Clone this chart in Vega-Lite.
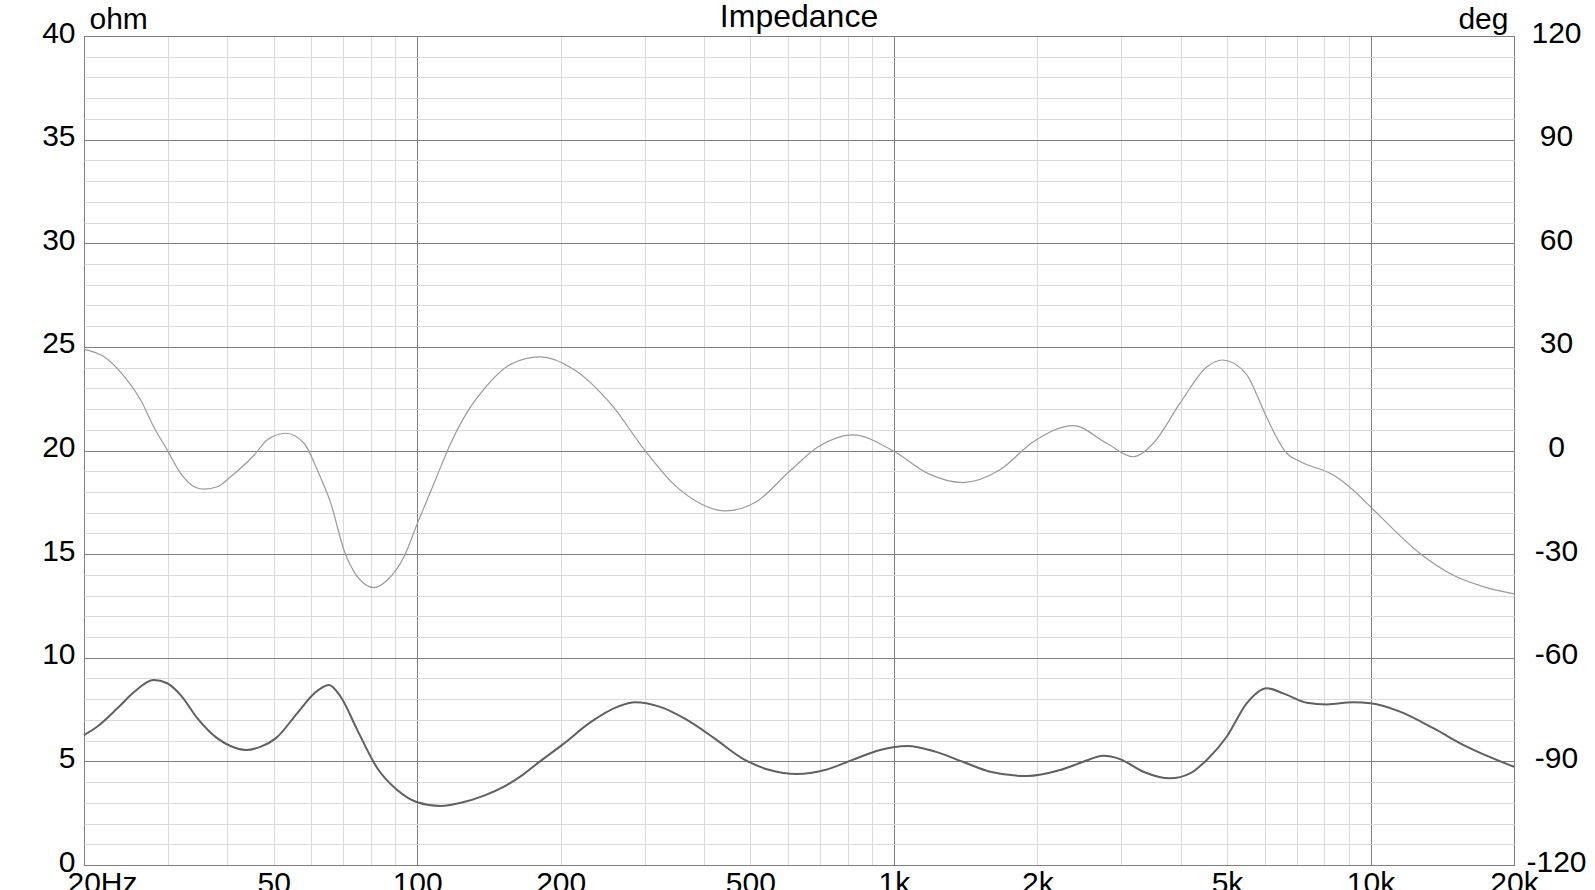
{
  "$schema": "https://vega.github.io/schema/vega-lite/v6.json",
  "width": 1430,
  "height": 829,
  "autosize": {"type": "none"},
  "padding": {"left": 84, "top": 36, "right": 81, "bottom": 25},
  "background": "white",
  "title": {"text": "Impedance", "anchor": "middle", "frame": "group", "fontSize": 32, "font": "Liberation Sans", "fontWeight": "normal", "color": "#000", "baseline": "alphabetic", "offset": -55},
  "datasets": {
    "impedance": [
      {"f": 20, "ohm": 6.27}, {"f": 21.3, "ohm": 6.67}, {"f": 23.5, "ohm": 7.56}, {"f": 25.5, "ohm": 8.36},
      {"f": 28.0, "ohm": 8.93}, {"f": 29.9, "ohm": 8.77}, {"f": 31.9, "ohm": 8.2}, {"f": 34.6, "ohm": 7.08},
      {"f": 38.1, "ohm": 6.11}, {"f": 40.6, "ohm": 5.74}, {"f": 43.7, "ohm": 5.55}, {"f": 47.0, "ohm": 5.71},
      {"f": 50.5, "ohm": 6.11}, {"f": 56.0, "ohm": 7.32}, {"f": 60.8, "ohm": 8.28}, {"f": 65.3, "ohm": 8.69},
      {"f": 69.1, "ohm": 8.12}, {"f": 74.9, "ohm": 6.51}, {"f": 82.5, "ohm": 4.67}, {"f": 90.8, "ohm": 3.62},
      {"f": 100, "ohm": 3.03}, {"f": 112, "ohm": 2.85}, {"f": 123.4, "ohm": 3.0}, {"f": 138.1, "ohm": 3.35},
      {"f": 154.8, "ohm": 3.88}, {"f": 166.5, "ohm": 4.35}, {"f": 179.8, "ohm": 4.95}, {"f": 202.1, "ohm": 5.82}, {"f": 230.8, "ohm": 6.88},
      {"f": 263.7, "ohm": 7.64}, {"f": 286.6, "ohm": 7.85}, {"f": 322.1, "ohm": 7.64}, {"f": 368.1, "ohm": 7.0},
      {"f": 420.5, "ohm": 6.11}, {"f": 480.6, "ohm": 5.15}, {"f": 549.1, "ohm": 4.58}, {"f": 627, "ohm": 4.39},
      {"f": 716.6, "ohm": 4.58}, {"f": 818.8, "ohm": 5.07}, {"f": 935.5, "ohm": 5.55}, {"f": 1069, "ohm": 5.74},
      {"f": 1221, "ohm": 5.47}, {"f": 1395, "ohm": 4.98}, {"f": 1593, "ohm": 4.5}, {"f": 1900, "ohm": 4.29},
      {"f": 2232, "ohm": 4.58}, {"f": 2497, "ohm": 4.98}, {"f": 2750, "ohm": 5.27}, {"f": 2982, "ohm": 5.11},
      {"f": 3337, "ohm": 4.5}, {"f": 3795, "ohm": 4.18}, {"f": 4183, "ohm": 4.42}, {"f": 4533, "ohm": 5.07},
      {"f": 4992, "ohm": 6.19}, {"f": 5498, "ohm": 7.8}, {"f": 6056, "ohm": 8.53}, {"f": 6562, "ohm": 8.28},
      {"f": 7348, "ohm": 7.83}, {"f": 8094, "ohm": 7.75}, {"f": 9205, "ohm": 7.85}, {"f": 10000, "ohm": 7.8},
      {"f": 11531, "ohm": 7.4}, {"f": 13542, "ohm": 6.6}, {"f": 15914, "ohm": 5.71}, {"f": 20000, "ohm": 4.74}
    ],
    "phase": [
      {"f": 20, "deg": 29.3}, {"f": 22.0, "deg": 27.2}, {"f": 24.3, "deg": 21.4}, {"f": 26.3, "deg": 14.6},
      {"f": 28.0, "deg": 6.9}, {"f": 29.9, "deg": 0.1}, {"f": 31.9, "deg": -6.6}, {"f": 34.3, "deg": -10.7},
      {"f": 35.7, "deg": -11.2}, {"f": 38.1, "deg": -10.5}, {"f": 40.6, "deg": -7.6}, {"f": 45.5, "deg": -1.3},
      {"f": 48.5, "deg": 3.1}, {"f": 53.0, "deg": 5.0}, {"f": 57.9, "deg": 2.1}, {"f": 61.7, "deg": -5.6},
      {"f": 65.9, "deg": -15.3}, {"f": 70.2, "deg": -28.8}, {"f": 74.9, "deg": -36.5}, {"f": 81.2, "deg": -39.7},
      {"f": 86.6, "deg": -37.5}, {"f": 93.9, "deg": -30.7}, {"f": 100.1, "deg": -21.1}, {"f": 108.5, "deg": -9.5},
      {"f": 117.6, "deg": 2.1}, {"f": 129.5, "deg": 12.7}, {"f": 138.1, "deg": 17.8}, {"f": 157.3, "deg": 25.0},
      {"f": 181, "deg": 27.1}, {"f": 212.4, "deg": 23.6}, {"f": 255.1, "deg": 13.4}, {"f": 301.3, "deg": -0.2},
      {"f": 344.3, "deg": -9.6}, {"f": 393.4, "deg": -15.4}, {"f": 442, "deg": -17.5}, {"f": 513.6, "deg": -14.9},
      {"f": 606.6, "deg": -5.8}, {"f": 692.9, "deg": 1.0}, {"f": 818.8, "deg": 4.5}, {"f": 1000, "deg": -0.2},
      {"f": 1181, "deg": -6.7}, {"f": 1395, "deg": -9.3}, {"f": 1670, "deg": -5.6}, {"f": 1961, "deg": 2.5},
      {"f": 2380, "deg": 7.2}, {"f": 2796, "deg": 2.1}, {"f": 3178, "deg": -1.8}, {"f": 3502, "deg": 2.1},
      {"f": 3985, "deg": 13.7}, {"f": 4533, "deg": 24.2}, {"f": 4897, "deg": 26.2}, {"f": 5498, "deg": 22.0},
      {"f": 5800, "deg": 15.5}, {"f": 6056, "deg": 9.6}, {"f": 6671, "deg": -0.8}, {"f": 7115, "deg": -3.2}, {"f": 8356, "deg": -7.1},
      {"f": 9205, "deg": -11.5}, {"f": 10000, "deg": -16.3}, {"f": 12700, "deg": -29.8}, {"f": 14918, "deg": -36.1},
      {"f": 17246, "deg": -39.4}, {"f": 20000, "deg": -41.5}
    ]
  },
  "layer": [
    {
      "data": {"name": "impedance"},
      "mark": {"type": "line", "color": "#606060", "strokeWidth": 2, "interpolate": "monotone"},
      "encoding": {
        "x": {
          "field": "f", "type": "quantitative",
          "scale": {"type": "log", "domain": [20, 20000], "nice": false},
          "axis": {
            "title": null,
            "values": [20, 30, 40, 50, 60, 70, 80, 90, 100, 200, 300, 400, 500, 600, 700, 800, 900, 1000, 2000, 3000, 4000, 5000, 6000, 7000, 8000, 9000, 10000, 20000],
            "labelExpr": "indexof([20,50,100,200,500,1000,2000,5000,10000,20000], datum.value) < 0 ? '' : datum.value == 20 ? '20Hz' : datum.value >= 1000 ? (datum.value/1000) + 'k' : datum.value + ''",
            "grid": true,
            "gridColor": {"condition": {"test": "indexof([20,100,1000,10000,20000], datum.value) >= 0", "value": "#7f7f7f"}, "value": "#dadada"},
            "gridWidth": 1,
            "ticks": false, "tickSize": 0, "domain": false,
            "labelPadding": 3, "labelFlush": false, "labelOverlap": false, "labelBound": false,
            "labelBaseline": "top",
            "labelOffset": {"condition": {"test": "datum.value == 20", "value": 18}, "value": 0}
          }
        },
        "y": {
          "field": "ohm", "type": "quantitative",
          "scale": {"domain": [0, 40], "nice": false, "zero": false},
          "axis": {
            "orient": "left",
            "title": "ohm", "titleAngle": 0, "titleAlign": "left", "titleBaseline": "alphabetic", "titleX": 5, "titleY": -8,
            "values": [0, 1, 2, 3, 4, 5, 6, 7, 8, 9, 10, 11, 12, 13, 14, 15, 16, 17, 18, 19, 20, 21, 22, 23, 24, 25, 26, 27, 28, 29, 30, 31, 32, 33, 34, 35, 36, 37, 38, 39, 40],
            "labelExpr": "datum.value % 5 === 0 ? '' + datum.value : ''",
            "grid": true,
            "gridColor": {"condition": {"test": "datum.value % 5 === 0", "value": "#7f7f7f"}, "value": "#dadada"},
            "ticks": false, "tickSize": 0, "domain": false,
            "labelPadding": 9, "labelOffset": -3, "labelFlush": false, "labelOverlap": false, "labelBound": false
          }
        }
      }
    },
    {
      "data": {"name": "phase"},
      "mark": {"type": "line", "color": "#9a9a9a", "strokeWidth": 1.2, "interpolate": "monotone"},
      "encoding": {
        "x": {"field": "f", "type": "quantitative", "scale": {"type": "log", "domain": [20, 20000], "nice": false}},
        "y": {
          "field": "deg", "type": "quantitative",
          "scale": {"domain": [-120, 120], "nice": false, "zero": false},
          "axis": {
            "orient": "right",
            "title": "deg", "titleAngle": 0, "titleAlign": "right", "titleBaseline": "alphabetic", "titleX": -6, "titleY": -8,
            "values": [-120, -90, -60, -30, 0, 30, 60, 90, 120],
            "labelExpr": "'' + datum.value",
            "grid": false, "ticks": false, "tickSize": 0, "domain": false,
            "labelAlign": "center", "labelPadding": 42, "labelOffset": -3, "labelFlush": false, "labelOverlap": false, "labelBound": false
          }
        }
      }
    }
  ],
  "resolve": {"scale": {"y": "independent"}},
  "config": {
    "view": {"stroke": "#666666", "strokeWidth": 1},
    "axis": {
      "labelFont": "Liberation Sans", "labelFontSize": 30, "labelColor": "#000000",
      "titleFont": "Liberation Sans", "titleFontSize": 30, "titleFontWeight": "normal", "titleColor": "#000000"
    }
  }
}
